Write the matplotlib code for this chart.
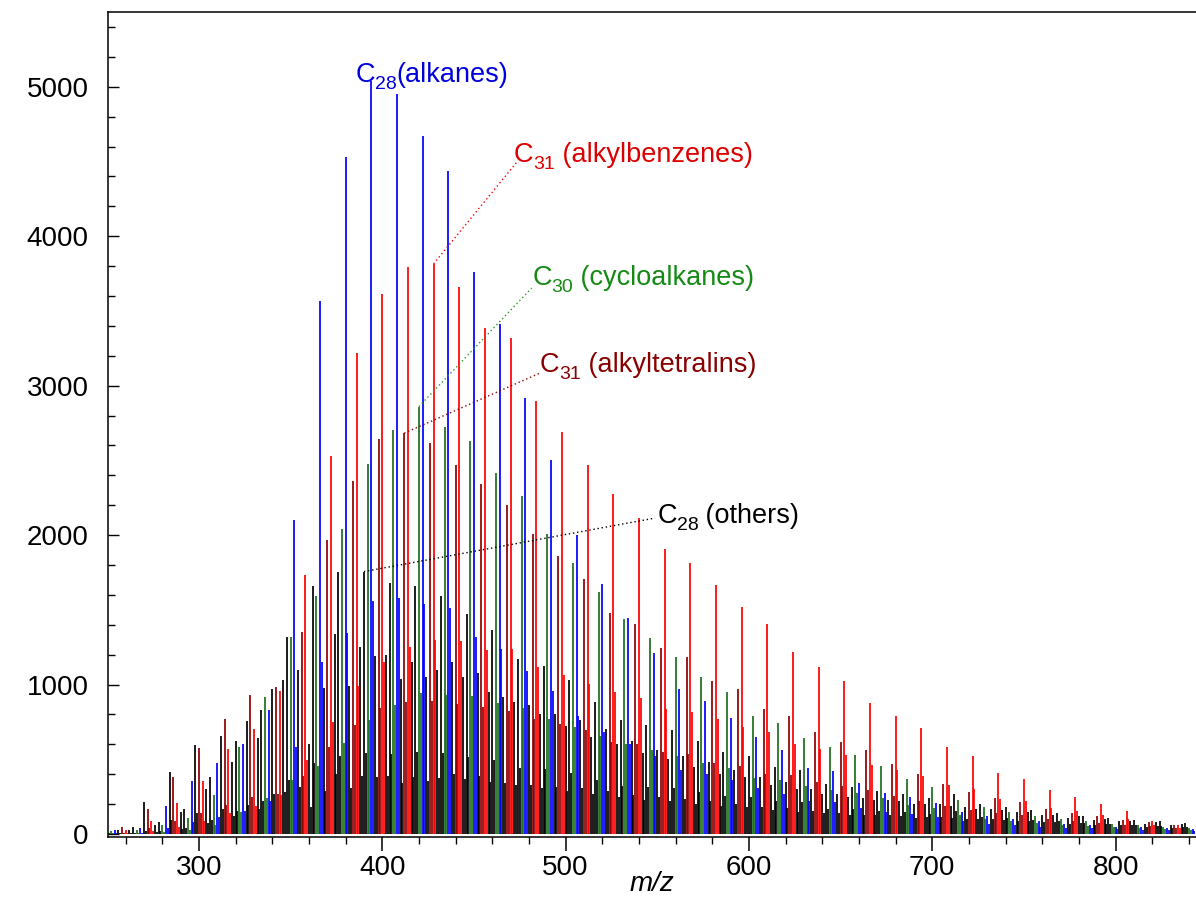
import matplotlib
matplotlib.use("Agg")
import matplotlib.pyplot as plt
from matplotlib.ticker import MultipleLocator
from matplotlib.transforms import offset_copy

plt.rcParams['font.family'] = ['Liberation Sans', 'DejaVu Sans']

# ---------------------------------------------------------------------------
# Homologous series: intensities of the molecular ion (M) and its 13C
# isotope peak (M+1), indexed by carbon number starting at *_start.
# Nominal mass of CnH(2n+z) = 14n + z.
# ---------------------------------------------------------------------------

# n-alkanes CnH2n+2
alkane_start = 18
alkane_int = [25, 40, 187, 357, 475, 602, 830, 2100, 3567, 4533, 5040, 4950, 4672,
              4437, 3763, 3413, 2918, 2503, 2000, 1670, 1446, 1211, 970, 892, 776,
              649, 562, 444, 424, 341, 274, 250, 207, 150, 120, 100, 85, 70, 60, 50,
              45, 40, 35]
alkane_iso = [6, 8, 40, 82, 115, 152, 220, 580, 1150, 1346, 1560, 1580, 1540, 1510,
              1320, 1240, 1090, 960, 790, 680, 600, 520, 430, 400, 360, 310, 270, 220,
              215, 175, 145, 135, 115, 85, 70, 58, 50, 42, 37, 31, 28, 26, 23]

# cycloalkanes CnH2n
cyclo_start = 18
cyclo_int = [20, 30, 60, 110, 261, 582, 914, 1316, 1595, 2043, 2476, 2704, 2860,
             2726, 2630, 2414, 2262, 2004, 1816, 1620, 1441, 1312, 1187, 1053, 950,
             788, 745, 645, 580, 529, 455, 366, 313, 230, 180, 150, 120, 100, 85, 70,
             60, 50, 40]
cyclo_iso = [4, 6, 13, 25, 63, 147, 241, 362, 456, 607, 762, 862, 944, 929, 926, 876,
             846, 772, 719, 659, 602, 563, 522, 474, 439, 373, 360, 319, 293, 273, 240,
             197, 172, 129, 103, 87, 71, 60, 52, 44, 38, 32, 26]

# alkylbenzenes CnH2n-6
benzene_start = 19
benzene_int = [30, 90, 205, 357, 567, 700, 959, 1733, 2532, 3219, 3614, 3797, 3815,
               3661, 3387, 3320, 2898, 2690, 2470, 2276, 2117, 1907, 1816, 1667, 1521,
               1405, 1220, 1118, 1024, 877, 792, 711, 580, 522, 406, 366, 292, 250,
               203, 152, 90, 60]
benzene_iso = [6, 20, 47, 86, 143, 185, 264, 496, 752, 991, 1153, 1253, 1300, 1290,
               1230, 1240, 1116, 1065, 1005, 951, 908, 839, 819, 770, 719, 680, 604,
               566, 530, 463, 427, 391, 325, 299, 237, 218, 177, 154, 128, 98, 59, 40]

# alkyltetralins CnH2n-8
tetralin_start = 19
tetralin_int = [50, 167, 379, 573, 770, 928, 982, 1350, 1968, 2363, 2642, 2682, 2615,
                2470, 2343, 2202, 2006, 1861, 1709, 1477, 1404, 1243, 1183, 1024, 968,
                834, 792, 681, 614, 562, 468, 400, 333, 283, 243, 212, 169, 143, 120,
                94, 78, 58]
tetralin_iso = [10, 37, 88, 139, 195, 245, 270, 386, 585, 728, 843, 885, 892, 870,
                851, 823, 772, 737, 695, 617, 602, 547, 533, 473, 458, 404, 392, 345,
                318, 297, 252, 220, 187, 162, 142, 126, 102, 88, 75, 60, 51, 38]

# other classes: CnH2n-2, CnH2n-4, CnH2n-10
other2_start = 18
other2_int = [30, 50, 80, 170, 380, 620, 830, 1316, 1662, 1752, 1756, 1682, 1662,
              1595, 1472, 1365, 1173, 1124, 1031, 884, 763, 729, 696, 620, 547, 522,
              450, 428, 335, 317, 290, 270, 240, 270, 200, 180, 160, 140, 120, 105, 95,
              85, 75]
other2_iso = [8, 10, 18, 39, 92, 157, 219, 362, 475, 520, 540, 537, 549, 544, 518,
              495, 439, 433, 408, 360, 319, 313, 306, 280, 253, 247, 218, 212, 169, 164,
              153, 146, 132, 152, 115, 105, 95, 85, 75, 67, 62, 56, 50]

other4_start = 19
other4_int = [30, 60, 150, 300, 480, 640, 1031, 600, 1340, 1250, 1200, 1150, 1100,
              1050, 950, 880, 800, 720, 650, 600, 540, 500, 450, 400, 380, 330, 300,
              270, 250, 230, 220, 200, 190, 170, 160, 150, 130, 120, 100, 90, 80, 70]
other4_iso = [6, 13, 35, 72, 120, 166, 283, 180, 400, 390, 385, 380, 375, 370, 345,
              330, 310, 285, 265, 250, 230, 220, 200, 185, 180, 160, 150, 140, 130, 125,
              120, 115, 110, 100, 95, 90, 80, 75, 65, 60, 55, 50]

other10_start = 19
other10_int = [25, 214, 415, 596, 656, 758, 970, 1100, 980, 990, 1190, 1040, 1050,
               1150, 1080, 920, 860, 800, 760, 700, 620, 560, 520, 480, 430, 380, 350,
               300, 270, 240, 230, 200, 200, 180, 170, 150, 130, 110, 95, 85, 70, 60]
other10_iso = [5, 22, 95, 143, 164, 197, 267, 315, 290, 307, 380, 343, 357, 403, 389,
               340, 330, 315, 307, 290, 262, 246, 234, 220, 202, 182, 175, 153, 141,
               128, 125, 110, 112, 103, 99, 90, 80, 70, 62, 57, 48, 42]

BLUE = '#0000ff'
GREEN = '#1d6f1d'
RED = '#ff0000'
DARKRED = '#8b0000'
BLACK = '#000000'

# (start carbon number, z in CnH2n+z, M intensities, M+1 intensities, colour)
series = [
    (other10_start, -10, other10_int, other10_iso, BLACK),
    (other4_start, -4, other4_int, other4_iso, BLACK),
    (other2_start, -2, other2_int, other2_iso, BLACK),
    (cyclo_start, 0, cyclo_int, cyclo_iso, GREEN),
    (tetralin_start, -8, tetralin_int, tetralin_iso, DARKRED),
    (benzene_start, -6, benzene_int, benzene_iso, RED),
    (alkane_start, 2, alkane_int, alkane_iso, BLUE),
]


def nominal_mass(n, z):
    return 12 * n + (2 * n + z)


fig = plt.figure(figsize=(11.96, 9.05), dpi=100)
ax = fig.add_axes([108 / 1196, 1 - 836.7 / 905, 1088 / 1196, (836.7 - 12) / 905])

for start, z, ints, isos, col in series:
    masses = [nominal_mass(start + i, z) for i in range(len(ints))]
    ax.vlines(masses, 0, ints, colors=col, lw=1.25)
    ax.vlines([m + 1 for m in masses], 0, isos, colors=col, lw=1.25)

ax.set_xlim(250.4, 843.9)
ax.set_ylim(-18, 5500)
ax.xaxis.set_major_locator(MultipleLocator(100))
ax.xaxis.set_minor_locator(MultipleLocator(20))
ax.yaxis.set_major_locator(MultipleLocator(1000))
ax.yaxis.set_minor_locator(MultipleLocator(200))
ax.tick_params(axis='x', which='major', direction='out', length=10, width=1.1,
               labelsize=20, pad=3)
ax.tick_params(axis='x', which='minor', direction='out', length=5, width=1.0)
ax.tick_params(axis='y', which='major', direction='in', length=8, width=1.0,
               labelsize=20, pad=14)
ax.tick_params(axis='y', which='minor', direction='in', length=5, width=1.0)
ax.spines['right'].set_visible(False)
for s in ('left', 'bottom', 'top'):
    ax.spines[s].set_linewidth(1.1)
ax.set_xlabel('m/z', fontsize=20, style='italic', labelpad=-7)

FS = 19.5
SUB_FS = 14
renderer = fig.canvas.get_renderer()


def chem_label(x, y, carbons, rest, color):
    """Draw 'C' + subscript carbon number + rest, starting at data (x, y)."""
    t = ax.text(x, y, 'C', color=color, fontsize=FS, ha='left', va='baseline')
    w_c = t.get_window_extent(renderer).width * 72 / fig.dpi
    tr = offset_copy(ax.transData, fig=fig, x=w_c, y=-5, units='points')
    s = ax.text(x, y, str(carbons), color=color, fontsize=SUB_FS, ha='left',
                va='baseline', transform=tr)
    w_s = s.get_window_extent(renderer).width * 72 / fig.dpi
    tr2 = offset_copy(ax.transData, fig=fig, x=w_c + w_s, y=0, units='points')
    ax.text(x, y, rest, color=color, fontsize=FS, ha='left', va='baseline',
            transform=tr2)


def label_line(n_peak, start, z, ints, end, col):
    x0 = nominal_mass(n_peak, z)
    y0 = ints[n_peak - start]
    ax.plot([x0, end[0]], [y0, end[1]], color=col, lw=1.0,
            linestyle=(0, (1, 2)), clip_on=False)


chem_label(385.4, 5034, 28, '(alkanes)', '#0000dd')

label_line(31, benzene_start, -6, benzene_int, (473.6, 4498), RED)
chem_label(471.8, 4498, 31, ' (alkylbenzenes)', '#dd0000')

label_line(30, cyclo_start, 0, cyclo_int, (481.5, 3653), '#2a9a2a')
chem_label(481.8, 3673, 30, ' (cycloalkanes)', '#158a15')

label_line(30, tetralin_start, -8, tetralin_int, (485.6, 3082), DARKRED)
chem_label(485.8, 3093, 31, ' (alkyltetralins)', '#880000')

label_line(28, other2_start, -2, other2_int, (548.8, 2114), BLACK)
chem_label(550.0, 2079, 28, ' (others)', 'black')

fig.savefig('out.png', dpi=100)
